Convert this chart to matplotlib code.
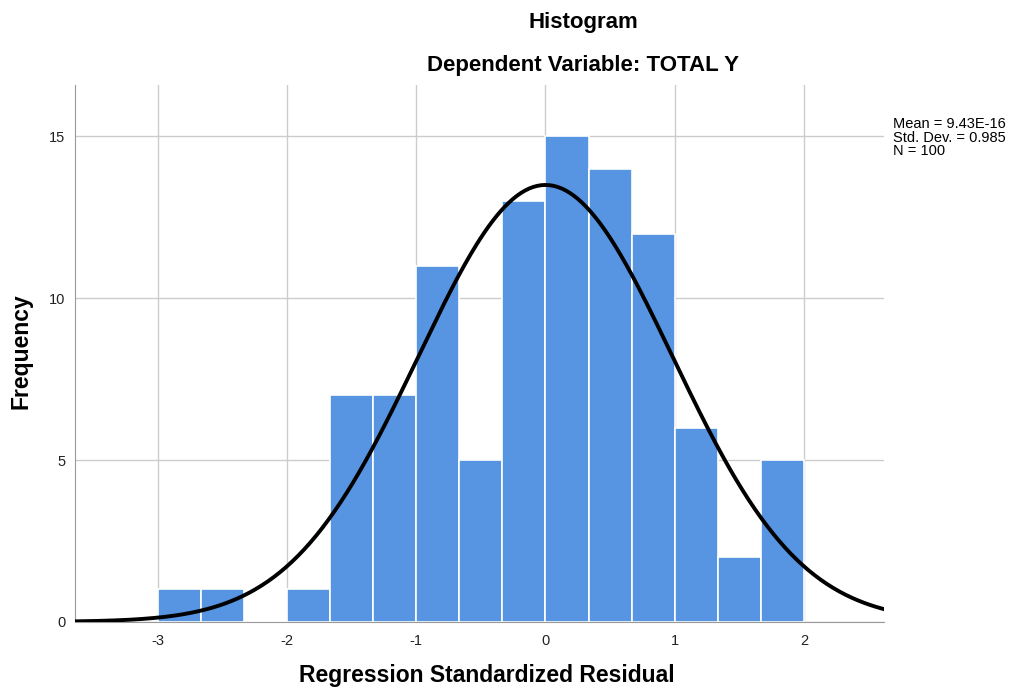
"""SPSS-style histogram of regression standardized residuals with normal curve."""
import numpy as np
import matplotlib
matplotlib.use("Agg")
import matplotlib.pyplot as plt

plt.rcParams["font.family"] = ["Liberation Sans", "DejaVu Sans"]

# bin edges (width 1/3) and counts
bin_edges = [-3.0, -8/3, -7/3, -2.0, -5/3, -4/3, -1.0, -2/3, -1/3, 0.0,
             1/3, 2/3, 1.0, 4/3, 5/3, 2.0]
counts = [1, 1, 0, 1, 7, 7, 11, 5, 13, 15, 14, 12, 6, 2, 5]

mean = 9.43e-16
std = 0.985
n = 100
x_ticks = [-3, -2, -1, 0, 1, 2]
x_tick_labels = ["-3", "-2", "-1", "0", "1", "2"]
y_ticks = [0, 5, 10, 15]

BAR = "#5794E2"
GRID = "#cccccc"


def main():
    fig = plt.figure(figsize=(10.16, 6.94), dpi=100)
    ax = fig.add_axes([0.074, 0.104, 0.796, 0.774])

    lefts = np.array(bin_edges[:-1])
    widths = np.diff(bin_edges)
    ax.bar(lefts, counts, width=widths, align="edge", color=BAR,
           edgecolor="white", linewidth=1.2, zorder=2)

    # normal curve scaled to counts
    bw = widths[0]
    xs = np.linspace(-3.64, 2.62, 400)
    ys = n * bw * np.exp(-0.5 * ((xs - mean) / std) ** 2) / (std * np.sqrt(2 * np.pi))
    ax.plot(xs, ys, color="black", lw=2.8, zorder=3)

    ax.set_xlim(-3.64, 2.62)
    ax.set_ylim(0, 16.6)
    ax.set_xticks(x_ticks)
    ax.set_xticklabels(x_tick_labels)
    ax.set_yticks(y_ticks)
    ax.tick_params(length=0, labelsize=10.5, colors="#222222", pad=7)
    ax.tick_params(axis="x", pad=9)
    ax.grid(True, color=GRID, lw=1.0, zorder=0)
    ax.set_axisbelow(True)
    for side in ("top", "right"):
        ax.spines[side].set_visible(False)
    for side in ("left", "bottom"):
        ax.spines[side].set_color("#999999")

    fig.text(0.574, 0.968, "Histogram", ha="center", va="center",
             fontsize=16, fontweight="bold")
    fig.text(0.574, 0.905, "Dependent Variable: TOTAL Y", ha="center",
             va="center", fontsize=16, fontweight="bold")
    fig.text(0.479, 0.026, "Regression Standardized Residual", ha="center",
             va="center", fontsize=16.5, fontweight="bold")
    fig.text(0.021, 0.494, "Frequency", ha="center", va="center",
             rotation=90, fontsize=16.5, fontweight="bold")
    fig.text(0.879, 0.831, f"Mean = {mean:.2E}\nStd. Dev. = {std}\nN = {n}",
             ha="left", va="top", fontsize=10.5, linespacing=0.95)

    fig.savefig("out.png", dpi=100)
    plt.close(fig)


if __name__ == "__main__":
    main()
